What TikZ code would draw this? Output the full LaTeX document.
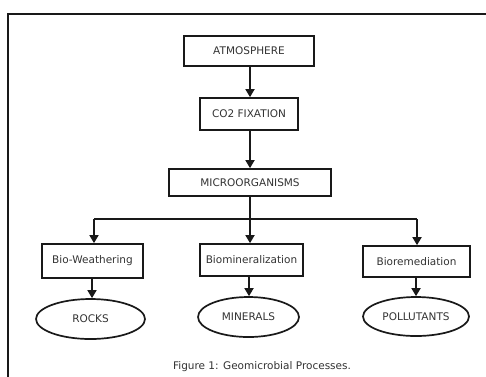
\documentclass[tikz,border=0pt]{standalone}
\usepackage{fontspec}
\setmainfont{DejaVu Sans}
\usetikzlibrary{arrows.meta,shapes.geometric}
\begin{document}
\begin{tikzpicture}[x=1pt,y=-1pt,
  box/.style={draw=black!90,line width=1.7pt,rectangle,inner sep=0pt,text=black!80,font=\fontsize{10.5}{12}\selectfont},
  oval/.style={draw=black!90,line width=1.7pt,ellipse,inner sep=0pt,text=black!80,font=\fontsize{10.5}{12}\selectfont},
  conn/.style={draw=black!90,line width=1.7pt},
  arr/.style={conn,-{Triangle[length=8pt,width=9pt]}}]
\useasboundingbox (0,0) rectangle (486,376);
\clip (0,0) rectangle (486,376);
\fill[white] (0,0) rectangle (486,376);
\draw[conn,line width=1.8pt] (8,400) -- (8,14) -- (500,14);
\node[box,minimum width=130pt,minimum height=30pt] (atm) at (249,51) {ATMOSPHERE};
\node[box,minimum width=98pt,minimum height=32pt] (co2) at (249,114) {CO2 FIXATION};
\node[box,minimum width=162pt,minimum height=27pt] (mic) at (250,182.5) {MICROORGANISMS};
\node[box,minimum width=101pt,minimum height=34pt] (bw) at (92.5,261) {Bio-Weathering};
\node[box,minimum width=103pt,minimum height=32pt] (bm) at (251.5,260) {Biomineralization};
\node[box,minimum width=107pt,minimum height=31pt] (br) at (416.5,261.5) {Bioremediation};
\node[oval,minimum width=109pt,minimum height=40pt] (rocks) at (90.5,319) {ROCKS};
\node[oval,minimum width=101pt,minimum height=40pt] (min) at (248.5,317) {MINERALS};
\node[oval,minimum width=106pt,minimum height=39pt] (pol) at (416,316.5) {POLLUTANTS};
\node[text=black!80,font=\fontsize{10.5}{12}\selectfont] (cap) at (262,367) {Figure 1: Geomicrobial Processes.};
\coordinate (j) at (250,219);
\coordinate (jl) at (94,219);
\coordinate (jr) at (417,219);
\draw[arr] (atm.south -| 250,0) -- (co2.north -| 250,0);
\draw[arr] (co2.south -| 250,0) -- (mic.north -| 250,0);
\draw[conn] (mic.south -| j) -- (j);
\draw[conn] (jl) -- (jr);
\draw[arr] (jl) -- (jl |- bw.north);
\draw[arr] (j) -- (j |- bm.north);
\draw[arr] (jr) -- (jr |- br.north);
\draw[arr] (bw.south -| 92,0) -- (rocks.north -| 92,0);
\draw[arr] (bm.south -| 249,0) -- (min.north -| 249,0);
\draw[arr] (br.south -| 416,0) -- (pol.north -| 416,0);
\end{tikzpicture}
\end{document}
